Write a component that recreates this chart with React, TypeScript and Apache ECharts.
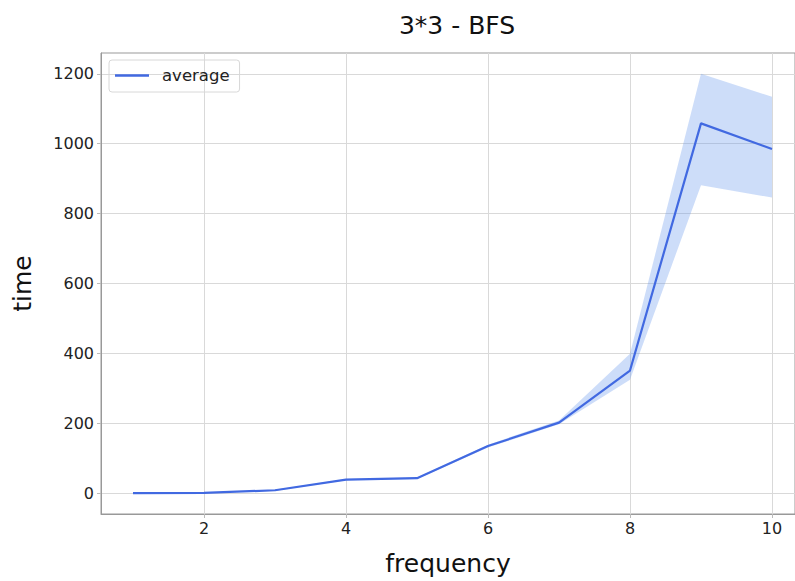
import React, { useEffect, useRef } from "react";
import * as echarts from "echarts";

const frequency = [1, 2, 3, 4, 5, 6, 7, 8, 9, 10];
const average = [0.5, 1, 8.5, 39, 43, 135, 202, 351, 1058, 985];
const upper = [0.8, 1.5, 10, 41, 45, 139, 208, 399, 1200, 1134];
const lower = [0.2, 0.5, 7, 37, 41, 131, 197, 325, 881, 846];
const xTicks = [2, 4, 6, 8, 10];
const yTicks = [0, 200, 400, 600, 800, 1000, 1200];

const FONT = "DejaVu Sans";

export default function App() {
  const ref = useRef<HTMLDivElement>(null);
  useEffect(() => {
    if (!ref.current) return;
    const chart = echarts.init(ref.current, undefined, { renderer: "svg" });
    const bandData = frequency.map((f, i) => [f, lower[i], upper[i]]);
    chart.setOption({
      animation: false,
      backgroundColor: "#ffffff",
      title: {
        text: "3*3 - BFS",
        left: 452,
        top: 8,
        textAlign: "center",
        textStyle: { fontFamily: FONT, fontSize: 25, fontWeight: "normal", color: "#111" },
      },
      legend: {
        left: 109,
        top: 60,
        data: [{ name: "average", icon: "rect" }],
        itemWidth: 34,
        itemHeight: 2.5,
        itemGap: 10,
        padding: [7, 10, 8, 6],
        borderColor: "#d8d8d8",
        borderWidth: 1,
        borderRadius: 3,
        textStyle: { fontFamily: FONT, fontSize: 16.5, color: "#222", padding: [0, 0, 0, 8] },
      },
      grid: { left: 101, top: 53, right: 0, bottom: 62, show: true, borderColor: "#999", borderWidth: 1 },
      xAxis: {
        type: "value",
        min: 0.549,
        max: 10.324,
        name: "frequency",
        nameLocation: "middle",
        nameGap: 37,
        nameTextStyle: { fontFamily: FONT, fontSize: 25, color: "#111" },
        axisLine: { show: true, onZero: false, lineStyle: { color: "#999" } },
        axisTick: { show: true, length: 4, lineStyle: { color: "#bbb" }, customValues: xTicks },
        axisLabel: { fontFamily: FONT, fontSize: 16, color: "#222", margin: 6, customValues: xTicks },
        splitLine: { show: true, lineStyle: { color: "#d9d9d9" } },
      },
      yAxis: {
        type: "value",
        min: -59.4,
        max: 1259.4,
        name: "time",
        nameLocation: "middle",
        nameGap: 66,
        nameTextStyle: { fontFamily: FONT, fontSize: 25, color: "#111" },
        axisLine: { show: true, onZero: false, lineStyle: { color: "#999" } },
        axisTick: { show: true, length: 4, lineStyle: { color: "#bbb" }, customValues: yTicks },
        axisLabel: {
          fontFamily: FONT,
          fontSize: 16,
          color: "#222",
          margin: 7,
          customValues: yTicks,
          formatter: (v: number) => String(v),
        },
        splitLine: { show: true, lineStyle: { color: "#d9d9d9" } },
      },
      series: [
        {
          type: "custom",
          name: "band",
          silent: true,
          z: 1,
          data: [0],
          renderItem: (params: any, api: any) => {
            const top = bandData.map((d) => api.coord([d[0], d[2]]));
            const bot = bandData.map((d) => api.coord([d[0], d[1]])).reverse();
            return {
              type: "polygon",
              shape: { points: top.concat(bot) },
              style: { fill: "rgba(100,149,237,0.32)", stroke: "none" },
            };
          },
        },
        {
          type: "line",
          name: "average",
          z: 3,
          data: frequency.map((f, i) => [f, average[i]]),
          showSymbol: false,
          symbol: "none",
          lineStyle: { color: "#4169e1", width: 2.2 },
          itemStyle: { color: "#4169e1" },
        },
      ],
    });
    return () => chart.dispose();
  }, []);
  return <div ref={ref} style={{ position: "fixed", left: 0, top: 0, width: 795, height: 581 }} />;
}
